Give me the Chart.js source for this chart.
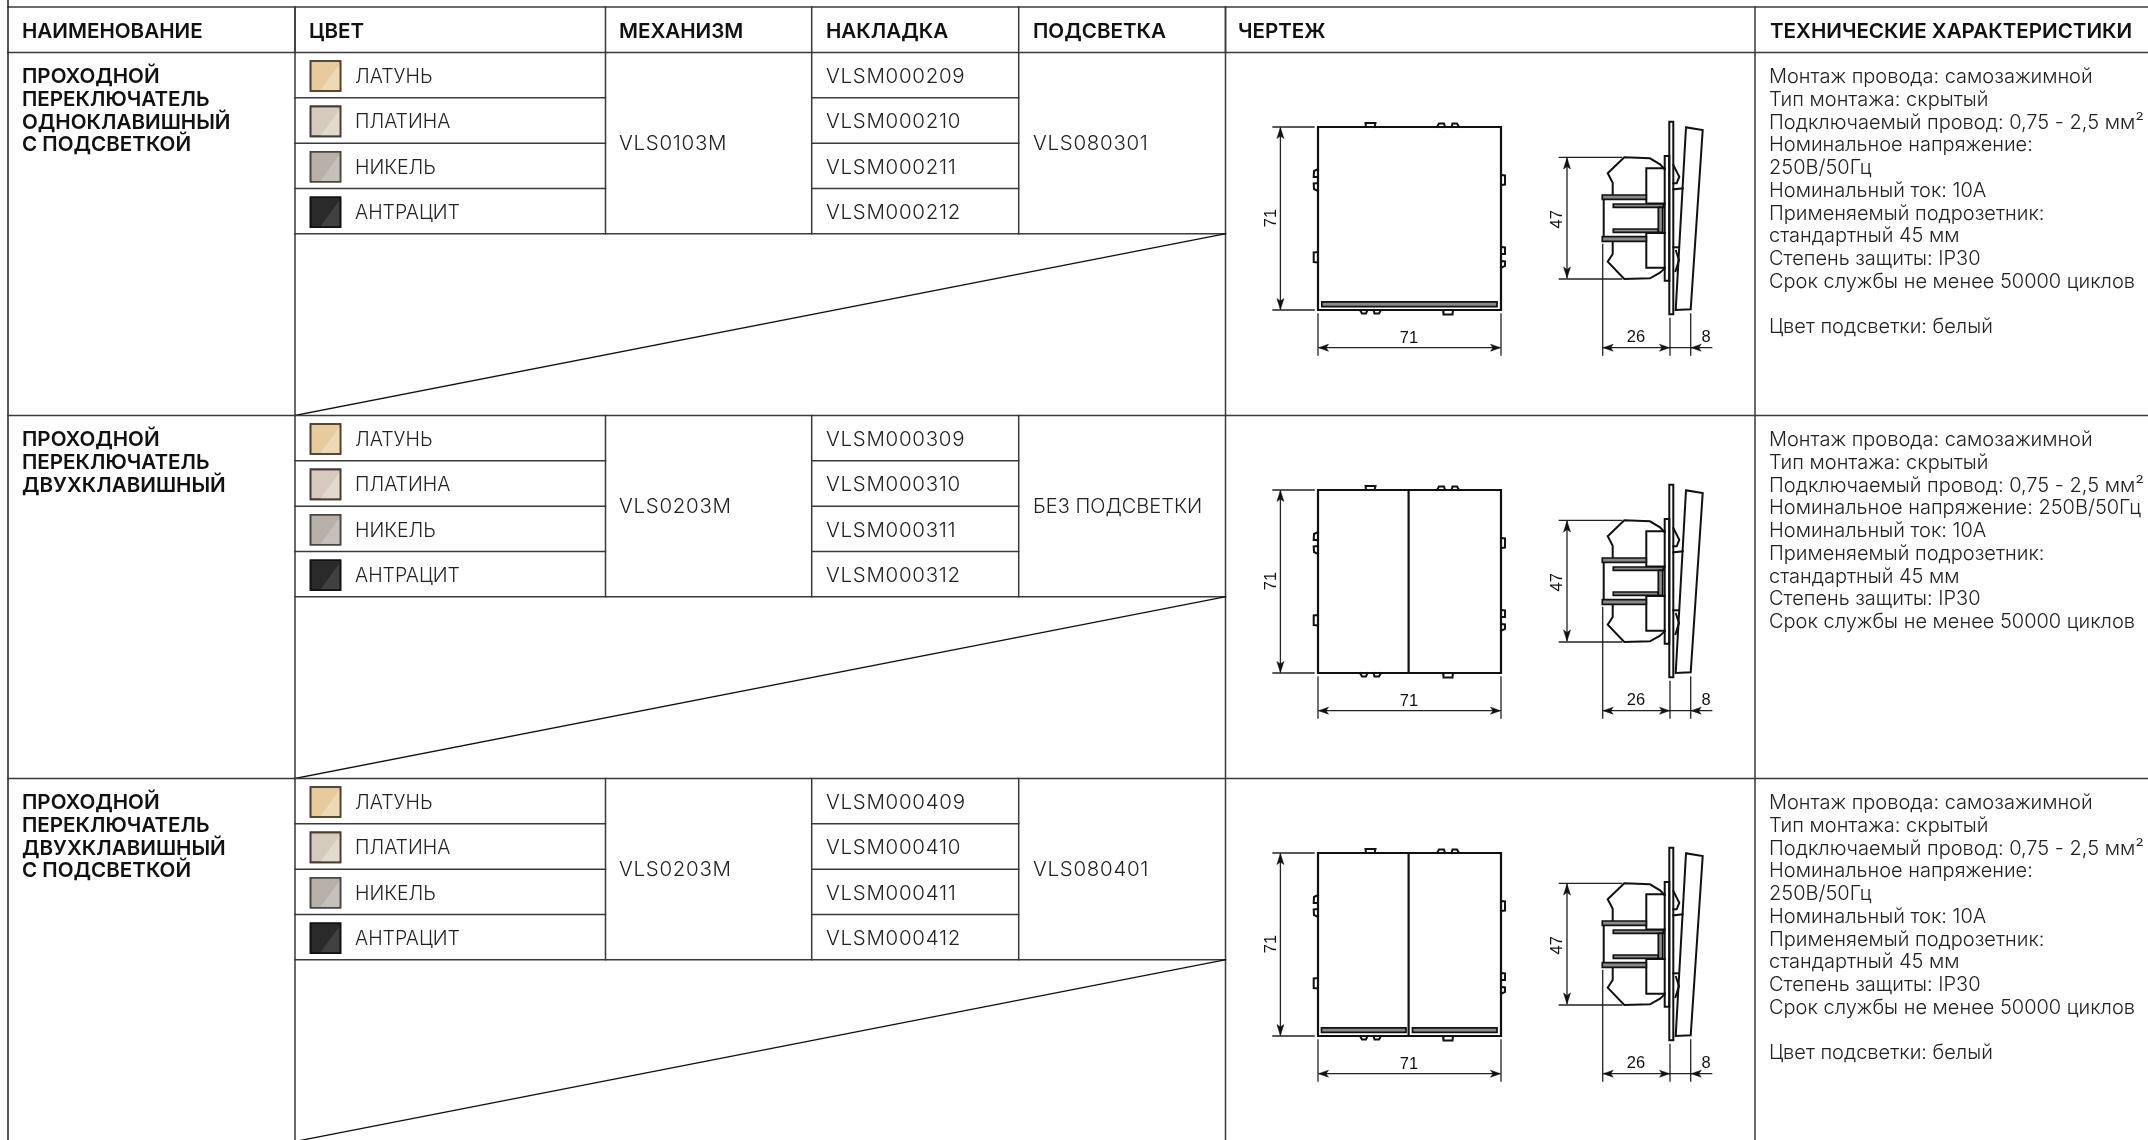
<!DOCTYPE html>
<html lang="ru">
<head>
<meta charset="utf-8">
<title>Проходные переключатели</title>
<script src="https://cdn.jsdelivr.net/npm/chart.js@4/dist/chart.umd.min.js"></script>
<style>
html, body { margin: 0; padding: 0; background: #fff; }
canvas { display: block; }
</style>
</head>
<body>
<canvas id="sheet" width="2148" height="1140"></canvas>
<script>
// table content
const headers = ['НАИМЕНОВАНИЕ', 'ЦВЕТ', 'МЕХАНИЗМ', 'НАКЛАДКА', 'ПОДСВЕТКА', 'ЧЕРТЕЖ', 'ТЕХНИЧЕСКИЕ ХАРАКТЕРИСТИКИ'];
const colorNames = ['ЛАТУНЬ', 'ПЛАТИНА', 'НИКЕЛЬ', 'АНТРАЦИТ'];
const groupNames = [
    ['ПРОХОДНОЙ', 'ПЕРЕКЛЮЧАТЕЛЬ', 'ОДНОКЛАВИШНЫЙ', 'С ПОДСВЕТКОЙ'],
    ['ПРОХОДНОЙ', 'ПЕРЕКЛЮЧАТЕЛЬ', 'ДВУХКЛАВИШНЫЙ'],
    ['ПРОХОДНОЙ', 'ПЕРЕКЛЮЧАТЕЛЬ', 'ДВУХКЛАВИШНЫЙ', 'С ПОДСВЕТКОЙ']
];
const mechanisms = ['VLS0103M', 'VLS0203M', 'VLS0203M'];
const overlays = [
    ['VLSM000209', 'VLSM000210', 'VLSM000211', 'VLSM000212'],
    ['VLSM000309', 'VLSM000310', 'VLSM000311', 'VLSM000312'],
    ['VLSM000409', 'VLSM000410', 'VLSM000411', 'VLSM000412']
];
const backlights = ['VLS080301', 'БЕЗ ПОДСВЕТКИ', 'VLS080401'];
const specsLit = [
    'Монтаж провода: самозажимной', 'Тип монтажа: скрытый', 'Подключаемый провод: 0,75 - 2,5 мм²',
    'Номинальное напряжение:', '250В/50Гц', 'Номинальный ток: 10А', 'Применяемый подрозетник:',
    'стандартный 45 мм', 'Степень защиты: IP30', 'Срок службы не менее 50000 циклов', '', 'Цвет подсветки: белый'
];
const specsPlain = [
    'Монтаж провода: самозажимной', 'Тип монтажа: скрытый', 'Подключаемый провод: 0,75 - 2,5 мм²',
    'Номинальное напряжение: 250В/50Гц', 'Номинальный ток: 10А', 'Применяемый подрозетник:',
    'стандартный 45 мм', 'Степень защиты: IP30', 'Срок службы не менее 50000 циклов'
];
const groupSpecs = [specsLit, specsPlain, specsLit];

// swatch tones: dark half, light half, frame
const swatchDark = ['#E8CB9C', '#D5CABC', '#B6B0A9', '#2A2A2A'];
const swatchLight = ['#EDD9B6', '#E2DACD', '#C5C0BA', '#414141'];
const swatchFrame = ['#4E3F2C', '#453D33', '#4A4640', '#111111'];

// table grid, page pixels
const colEdges = [8, 295, 605.5, 811.7, 1018.7, 1225.5, 1755];
const headerX = [22, 309, 619, 826, 1033, 1238, 1770];
const topRule = 7, headerRule = 52.5, groupPitch = 363;
const subRows = [97.8, 143.2, 188.6, 233.8];

// drawing, local pixels from the front panel corner
const frontBody = [[0,0],[183,0],[183,183],[0,183],[0,0]];
const clipLines = [
    [[48,0],[47.5,-4],[57.5,-4],[56.5,0]], [[119,0],[121,-3.5],[126,-3.5],[127,0]], [[133.5,0],[134.5,-3.5],[139,-3.5],[141,0]],
    [[42,183],[44,186.5],[48,186.5],[49.5,183]], [[55.5,183],[56.5,186.5],[61,186.5],[63,183]], [[125,183],[125.5,187.5],[134.5,187.5],[135,183]],
    [[0,42],[-4,44],[-4.3,50],[0,50]], [[0,56],[-4.3,56.5],[-4,62],[0,64]], [[0,125],[-4.3,125.5],[-4.3,135],[0,135.5]],
    [[183,48],[187,48.5],[187,57.5],[183,58]], [[183,120],[187,120.5],[187,127],[183,127]], [[183,134],[187,134.5],[187,139],[183,141]]
];
const keyDivider = [[90.6,0],[90.6,183]];
const groupSlots = [
    [[[3.8,174.8],[179,174.8],[179,179.6],[3.8,179.6],[3.8,174.8]]],
    [],
    [[[3.5,174.8],[88,174.8],[88,179.4],[3.5,179.4],[3.5,174.8]], [[94.5,174.8],[179,174.8],[179,179.4],[94.5,179.4],[94.5,174.8]]]
];
const groupDivided = [false, true, true];

const sideOutlines = [
    [[351.3,-5.3],[355.3,-5.3],[355.3,187.3],[351.3,187.3],[351.3,-5.3]],
    [[368,0.3],[384.7,3],[372.7,182.3],[357.7,183],[368,0.3]],
    [[346.7,29],[351.3,29],[351.3,153.7],[346.7,153.7],[346.7,29]],
    [[346.7,42.3],[342,37.3],[332,31.3],[306.3,30.3],[289.7,46.3],[294.7,55.7],[294.7,68]],
    [[294.7,114],[294.7,127],[289.7,134.7],[306.3,152],[332,151.3],[342,145.7],[346.7,141.3]],
    [[346.7,41.3],[328.3,41.3],[328.3,76.5],[346.7,76.5]],
    [[346.7,106],[328.3,106],[328.3,140.7],[346.7,140.7]],
    [[285.7,72.3],[285.7,109.7]],
    [[355.3,38],[361.3,49.7],[358.7,56.3],[355.3,56.3]],
    [[355.3,62.3],[364.7,61.3]],
    [[355.3,120.3],[360,120.3]],
    [[358,124],[361,133],[357.5,144]]
];
const sideFilled = [
    [[284.3,68],[328.3,68],[328.3,72.3],[284.3,72.3],[284.3,68]],
    [[284.3,109.7],[328.3,109.7],[328.3,114.3],[284.3,114.3],[284.3,109.7]],
    [[295.3,77],[345.3,77],[345.3,80.3],[295.3,80.3],[295.3,77]],
    [[295.3,102],[340.3,102],[340.3,105.3],[295.3,105.3],[295.3,102]],
    [[340.3,80.3],[344.7,80.3],[344.7,105.3],[340.3,105.3],[340.3,80.3]]
];
const dimLines = [
    [[-45,0],[-4,0]], [[-45,183],[-4,183]], [[-37.6,2],[-37.6,181]],
    [[0,187],[0,228]], [[183,187],[183,228]], [[2,220.7],[181,220.7]],
    [[241.3,30.3],[303.7,30.3]], [[241.3,152],[303.7,152]], [[249,32],[249,150]],
    [[284.7,117.3],[284.7,228]], [[352,191.3],[352,228]], [[372.7,187],[372.7,228]],
    [[286,220.7],[393.7,220.7]]
];
// tip x, tip y, direction of the arrow
const arrowTips = [
    [-37.6,0.5,'up'], [-37.6,182.5,'down'], [0.5,220.7,'left'], [182.5,220.7,'right'],
    [249,31,'up'], [249,151,'down'], [285.2,220.7,'left'], [351.5,220.7,'right'], [373.2,220.7,'left']
];
const dimTexts = [
    ['71', -47, 91, true], ['71', 91, 215.5, false], ['47', 239, 92.3, true],
    ['26', 318, 215, false], ['8', 388, 215, false]
];

const originX = 1318, originY = 127;

const datasets = [];

function addShape(pts, color, width, fillColor) {
    datasets.push({
        data: pts.map(p => ({ x: p[0], y: p[1] })),
        borderColor: color,
        borderWidth: width,
        backgroundColor: fillColor || 'transparent',
        fill: fillColor ? 'shape' : false,
        pointRadius: 0,
        tension: 0,
        borderCapStyle: 'square',
        borderJoinStyle: 'miter'
    });
}

function shifted(pts, dx, dy) { return pts.map(p => [p[0] + dx, p[1] + dy]); }

function arrowShape(tip) {
    const [x, y, dir] = tip;
    if (dir === 'up') return [[x,y],[x-3.5,y+11],[x,y+8.5],[x+3.5,y+11],[x,y]];
    if (dir === 'down') return [[x,y],[x-3.5,y-11],[x,y-8.5],[x+3.5,y-11],[x,y]];
    if (dir === 'left') return [[x,y],[x+10,y-3.5],[x+7.5,y],[x+10,y+3.5],[x,y]];
    return [[x,y],[x-10,y-3.5],[x-7.5,y],[x-10,y+3.5],[x,y]];
}

function buildTable() {
    const ruleColor = '#3a3a3a', ruleWidth = 1.5;
    addShape([[colEdges[0],topRule],[2148,topRule]], ruleColor, ruleWidth);
    addShape([[colEdges[0],headerRule],[2148,headerRule]], ruleColor, ruleWidth);
    addShape([[colEdges[0],0],[colEdges[0],1140]], '#222', ruleWidth);
    colEdges.slice(1, 6).forEach(x => addShape([[x,topRule],[x,headerRule]], ruleColor, ruleWidth));
    [colEdges[1], colEdges[5], colEdges[6]].forEach(x => addShape([[x,topRule],[x,1140]], ruleColor, ruleWidth));
    groupNames.forEach((g, i) => {
        const dy = i * groupPitch;
        if (i > 0) addShape([[colEdges[0],headerRule+dy],[2148,headerRule+dy]], ruleColor, ruleWidth);
        subRows.slice(0, 3).forEach(y => {
            addShape([[colEdges[1],y+dy],[colEdges[2],y+dy]], ruleColor, ruleWidth);
            addShape([[colEdges[3],y+dy],[colEdges[4],y+dy]], ruleColor, ruleWidth);
        });
        addShape([[colEdges[1],subRows[3]+dy],[colEdges[5],subRows[3]+dy]], ruleColor, ruleWidth);
        [2, 3, 4].forEach(c => addShape([[colEdges[c],headerRule+dy],[colEdges[c],subRows[3]+dy]], ruleColor, ruleWidth));
        addShape([[colEdges[1],headerRule+groupPitch+dy],[colEdges[5],subRows[3]+dy]], '#111', 1.3);
    });
}

function buildSwatches() {
    groupNames.forEach((g, i) => {
        colorNames.forEach((name, c) => {
            const x = 310.5, y = 61 + c * 45.4 + i * groupPitch;
            addShape([[x,y],[x+30,y],[x+30,y+30],[x,y+30],[x,y]], swatchFrame[c], 1.6, swatchDark[c]);
            addShape([[x+29,y+3],[x+29,y+29],[x+10,y+29],[x+29,y+3]], 'transparent', 0, swatchLight[c]);
            addShape([[x,y],[x+30,y],[x+30,y+30],[x,y+30],[x,y]], swatchFrame[c], 1.6);
        });
    });
}

function buildDrawings() {
    const ink = '#111', gray = '#8a8a8a';
    groupNames.forEach((g, i) => {
        const dx = originX, dy = originY + i * groupPitch;
        addShape(shifted(frontBody, dx, dy), ink, 2.2);
        clipLines.forEach(s => addShape(shifted(s, dx, dy), ink, 2));
        if (groupDivided[i]) addShape(shifted(keyDivider, dx, dy), ink, 2.2);
        groupSlots[i].forEach(s => addShape(shifted(s, dx, dy), ink, 1.7, gray));
        sideOutlines.forEach(s => addShape(shifted(s, dx, dy), ink, 2));
        sideFilled.forEach(s => addShape(shifted(s, dx, dy), ink, 1.7, gray));
        dimLines.forEach(s => addShape(shifted(s, dx, dy), '#222', 1.3));
        arrowTips.forEach(t => addShape(shifted(arrowShape(t), dx, dy), ink, 0.5, ink));
    });
}

buildTable();
buildSwatches();
buildDrawings();
datasets.forEach((d, i) => { d.order = datasets.length - i; });

const sheetText = {
    id: 'sheetText',
    afterDraw(chart) {
        const { ctx, scales: { x: sx, y: sy } } = chart;
        const put = (str, x, y, font, color, rotated, spacing) => {
            ctx.save();
            ctx.font = font;
            ctx.fillStyle = color;
            ctx.letterSpacing = spacing || '0px';
            ctx.translate(sx.getPixelForValue(x), sy.getPixelForValue(y));
            if (rotated) {
                ctx.rotate(-Math.PI / 2);
                ctx.textAlign = 'center';
                ctx.textBaseline = 'middle';
            } else {
                ctx.textAlign = 'left';
                ctx.textBaseline = 'alphabetic';
            }
            ctx.fillText(str, 0, 0);
            ctx.restore();
        };
        const bold = '600 20.6px Inter, sans-serif';
        const light = '300 19.5px Inter, sans-serif';
        const code = '300 20.5px Inter, sans-serif';
        const spec = '300 20px Inter, sans-serif';
        const dim = '16.5px "Liberation Sans", sans-serif';
        headers.forEach((h, i) => put(h, headerX[i], 37.5, bold, '#111'));
        groupNames.forEach((g, i) => {
            const dy = i * groupPitch;
            g.forEach((line, n) => put(line, 22, 83 + n * 22.8 + dy, bold, '#111'));
            colorNames.forEach((name, c) => put(name, 355, 83 + c * 45.4 + dy, light, '#222'));
            put(mechanisms[i], 619, 150 + dy, code, '#222', false, '0.7px');
            overlays[i].forEach((c0, c) => put(c0, 826, 83 + c * 45.4 + dy, code, '#222', false, '0.7px'));
            if (backlights[i].startsWith('VLS')) put(backlights[i], 1033, 150 + dy, code, '#222', false, '0.7px');
            else put(backlights[i], 1033, 150 + dy, spec, '#222');
            groupSpecs[i].forEach((line, n) => put(line, 1769, 83 + n * 22.75 + dy, spec, '#222'));
            dimTexts.forEach(t => {
                const px = t[1] + originX;
                if (t[3]) put(t[0], px, t[2] + originY + dy, dim, '#111', true);
                else {
                    ctx.font = dim;
                    put(t[0], px - ctx.measureText(t[0]).width / 2, t[2] + originY + dy, dim, '#111');
                }
            });
        });
    }
};

new Chart(document.getElementById('sheet'), {
    type: 'line',
    data: { datasets },
    options: {
        responsive: false,
        animation: false,
        events: [],
        parsing: { xAxisKey: 'x', yAxisKey: 'y' },
        layout: { padding: 0 },
        plugins: { legend: { display: false }, tooltip: { enabled: false } },
        scales: {
            x: { type: 'linear', min: 0, max: 2148, display: false },
            y: { type: 'linear', min: 0, max: 1140, reverse: true, display: false }
        }
    },
    plugins: [sheetText]
});
</script>
</body>
</html>
